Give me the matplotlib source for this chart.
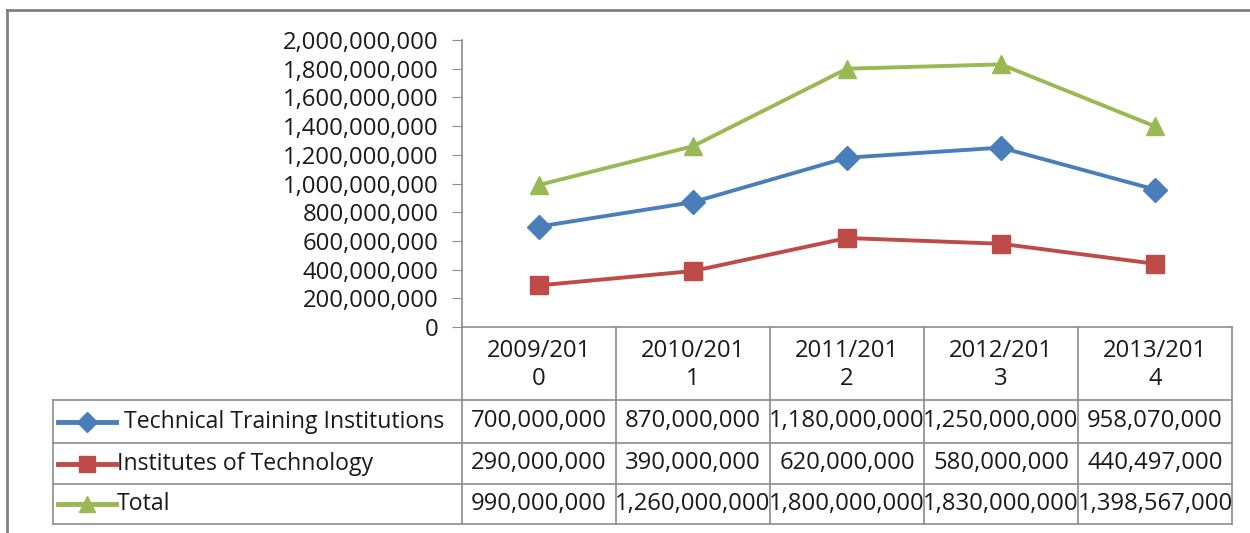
import numpy as np
import matplotlib.pyplot as plt

plt.rcParams['font.family'] = ['Open Sans', 'DejaVu Sans']

years = ["2009/201\n0", "2010/201\n1", "2011/201\n2", "2012/201\n3", "2013/201\n4"]
series_names = ["Technical Training Institutions", "Institutes of Technology", "Total"]
tti = [700000000, 870000000, 1180000000, 1250000000, 958070000]
iot = [290000000, 390000000, 620000000, 580000000, 440497000]
total = [990000000, 1260000000, 1800000000, 1830000000, 1398567000]
yticks = np.arange(0, 2000000001, 200000000)

colors = ["#4A7EBB", "#BE4B48", "#98B954"]
markers = ["D", "s", "^"]
msizes = [12, 13.5, 13.5]
values = [tti, iot, total]

W, H = 1250, 533
fig = plt.figure(figsize=(W / 100, H / 100), dpi=100)
txt = "#1a1a1a"
grid = "#8c8c8c"
fs = 17.2

# background overlay in pixel coords for border and table
bg = fig.add_axes([0, 0, 1, 1])
bg.set_xlim(0, W)
bg.set_ylim(H, 0)
bg.axis("off")
bg.plot([7, W], [10, 10], color="#808080", lw=2)
bg.plot([7, 7], [10, H], color="#808080", lw=2)

# plot area
x0, x1, ytop, ybot = 462, 1232, 40, 327
ax = fig.add_axes([x0 / W, 1 - ybot / H, (x1 - x0) / W, (ybot - ytop) / H])
xs = np.arange(len(years))
for vals, c, m, ms in zip(values, colors, markers, msizes):
    ax.plot(xs, vals, color=c, lw=2.8, marker=m, markersize=ms,
            markerfacecolor=c, markeredgecolor=c)
ax.set_xlim(-0.5, len(years) - 0.5)
ax.set_ylim(0, 2000000000)
ax.set_yticks(yticks)
ax.set_yticklabels([f"{v:,}" for v in yticks], fontsize=fs, color=txt)
ax.tick_params(axis="y", length=7, color=grid, pad=10)
ax.set_xticks([])
for s in ["top", "right"]:
    ax.spines[s].set_visible(False)
for s in ["left", "bottom"]:
    ax.spines[s].set_color(grid)
    ax.spines[s].set_linewidth(1.2)

# data table
colw = (x1 - x0) / len(years)
tleft = 53
row_edges = [400, 443, 484, 524]
for i in range(len(years) + 1):
    xx = x0 + i * colw
    bg.plot([xx, xx], [ybot, row_edges[-1]], color=grid, lw=1.2)
bg.plot([tleft, tleft], [row_edges[0], row_edges[-1]], color=grid, lw=1.2)
for ry in row_edges:
    bg.plot([tleft, x1], [ry, ry], color=grid, lw=1.2)

for i, lab in enumerate(years):
    cx = x0 + (i + 0.5) * colw
    top, bot = lab.split("\n")
    bg.text(cx, 351, top, ha="center", va="center", fontsize=fs, color=txt)
    bg.text(cx, 379, bot, ha="center", va="center", fontsize=fs, color=txt)

label_x = [124, 117, 117]
for r, (name, vals, c, m, ms) in enumerate(zip(series_names, values, colors, markers, msizes)):
    cy = (row_edges[r] + row_edges[r + 1]) / 2
    bg.plot([58, 116], [cy, cy], color=c, lw=3.5)
    bg.plot([87], [cy], marker=m, color=c, markersize=ms * 0.85, markeredgecolor=c)
    bg.text(label_x[r], cy, name, ha="left", va="center", fontsize=16.6, color=txt)
    for i, v in enumerate(vals):
        cx = x0 + (i + 0.5) * colw
        bg.text(cx, cy, f"{v:,}", ha="center", va="center", fontsize=fs, color=txt)

fig.savefig("out.png", dpi=100)
